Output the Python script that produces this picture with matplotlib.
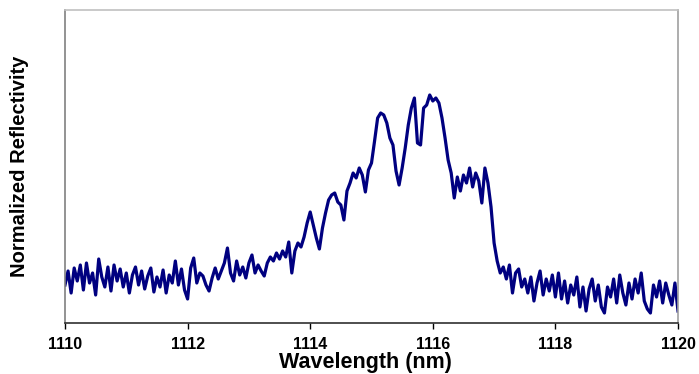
import numpy as np
import matplotlib.pyplot as plt

# wavelength grid, 0.05 nm steps
wl_start = 1110.0
wl_stop = 1120.0

# reflectivity (arbitrary units)
refl_a = [38, 52, 30, 55, 42, 58, 33, 60, 40, 50, 28, 64, 46, 36, 56, 32, 58, 42, 54, 36,
          50, 30, 48, 56, 38, 52, 34, 47, 55, 31, 46, 36, 53, 30, 48, 40, 62, 38, 54, 33, 24]
refl_b = [55, 65, 40, 50, 47, 38, 32, 45, 55, 44, 52, 60, 75,
          50, 42, 62, 48, 56, 45, 60, 68, 50, 58, 52, 47, 60, 66, 62, 70, 64, 72, 66, 81,
          50, 72, 80, 76, 86, 100]
refl_c = [111, 98, 85, 74, 95, 110, 123, 128, 130, 121, 118, 103, 132, 140, 150, 145, 155,
          148, 131, 153, 160, 182, 205, 210, 208, 200, 185, 178, 152, 138, 155, 175, 198, 215,
          225, 180, 178, 215, 218, 228, 222, 225, 220, 205, 185, 163, 150, 125, 146, 132, 148,
          140, 155, 136, 150, 142, 120, 155, 140, 116]
refl_d = [80, 62, 50, 56, 44, 58, 30, 50, 54, 36, 44, 30, 46, 22, 40, 52, 28, 44, 32, 48,
          26, 50, 24, 42, 20, 38, 28, 46, 16, 36, 12, 34, 44, 22, 38, 16, 10, 36, 26, 44,
          20, 48, 30, 18, 40, 24, 44, 30, 50, 22, 14, 10, 38, 26, 42, 20, 40, 28, 18, 40, 12]

refl = np.array(refl_a + refl_b + refl_c + refl_d, dtype=float)
wl = np.linspace(wl_start, wl_stop, len(refl))

xticks = [1110, 1112, 1114, 1116, 1118, 1120]

plt.rcParams['font.family'] = ['Liberation Sans', 'DejaVu Sans']

fig = plt.figure(figsize=(6.99, 3.74), dpi=100)
ax = fig.add_axes([65 / 699, 51 / 374, 613 / 699, 313 / 374])

ax.plot(wl, refl, color='#000080', lw=2.3, solid_joinstyle='round')

ax.set_xlim(1110, 1120)
ax.set_ylim(0, 313)
ax.set_xticks(xticks)
ax.set_xticklabels([str(t) for t in xticks], fontweight='bold', fontsize=11.5)
ax.set_yticks([])
ax.tick_params(axis='x', direction='out', length=4, width=1, pad=6, colors='black')

ax.spines['left'].set_color('#808080')
ax.spines['top'].set_color('#c0c0c0')
ax.spines['right'].set_color('#a0a0a0')
ax.spines['bottom'].set_color('#303030')
for s in ax.spines.values():
    s.set_linewidth(1.2)

ax.set_xlabel('Wavelength (nm)', fontweight='bold', fontsize=15.5)
ax.xaxis.set_label_coords(0.49, -0.094, transform=ax.transAxes)
ax.xaxis.label.set_va('top')
ax.set_ylabel('Normalized Reflectivity', fontweight='bold', fontsize=14.5)
ax.yaxis.set_label_coords(-0.058, 0.5)

fig.savefig('out.png', dpi=100)
